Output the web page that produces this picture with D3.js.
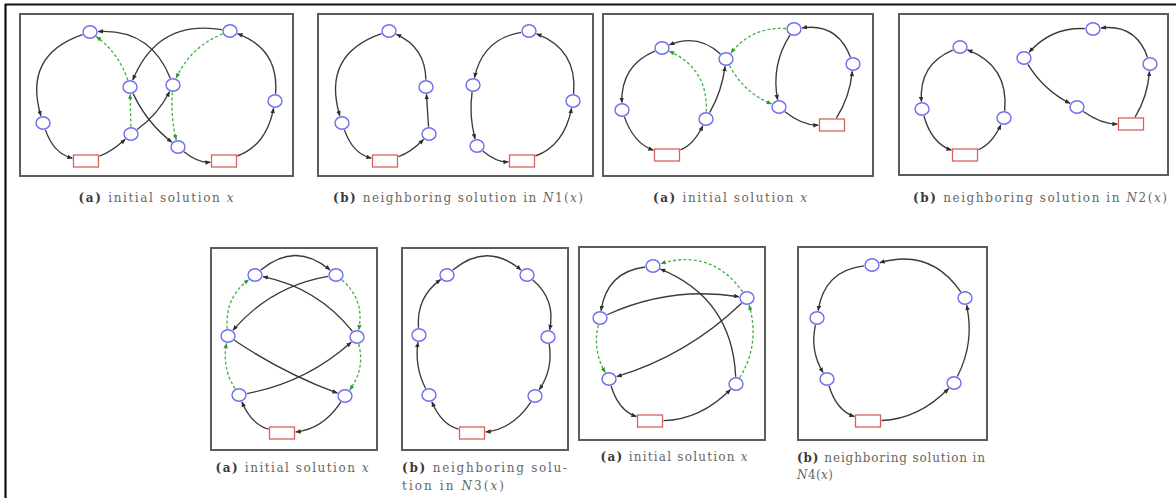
<!DOCTYPE html>
<html lang="en">
<head>
<meta charset="utf-8">
<script src="https://cdn.jsdelivr.net/npm/d3@7"></script>
<style>
body{margin:0;background:#fff;}
svg{display:block;}
</style>
</head>
<body>
<div id="chart"></div>
<script>
const W=1176, H=498

// nodes: [panel, id, x, y, kind]  (x,y in panel units, kind c=customer d=depot)
const nodes=[
 ["p1","a",70,18,"c"],["p1","b",210,17,"c"],["p1","c",23,109,"c"],["p1","d",110,73,"c"],["p1","e",153,71,"c"],
 ["p1","f",111,120,"c"],["p1","g",158,133,"c"],["p1","h",255,87,"c"],["p1","D1",66,147,"d"],["p1","D2",204,147,"d"],
 ["p2","a",71,17,"c"],["p2","b",108,73,"c"],["p2","c",111,120,"c"],["p2","d",24,109,"c"],["p2","D1",67,147,"d"],
 ["p2","e",211,17,"c"],["p2","f",155,71,"c"],["p2","g",159,132,"c"],["p2","h",255,87,"c"],["p2","D2",204,147,"d"],
 ["p3","A",59,34,"c"],["p3","B",123,45,"c"],["p3","C",19,96,"c"],["p3","D",103,105,"c"],["p3","DL",64,141,"d"],
 ["p3","E",191,15,"c"],["p3","F",250,50,"c"],["p3","G",176,93,"c"],["p3","DR",229,111,"d"],
 ["p4","A",61,33,"c"],["p4","C",23,95,"c"],["p4","D",105,104,"c"],["p4","DL",66,141,"d"],
 ["p4","E",194,15,"c"],["p4","L",125,44,"c"],["p4","R",251,50,"c"],["p4","G",178,93,"c"],["p4","DR",232,110,"d"],
 ["p5","TL",44,27,"c"],["p5","TR",125,27,"c"],["p5","ML",17,88,"c"],["p5","MR",146,89,"c"],["p5","BL",28,147,"c"],["p5","BR",134,148,"c"],["p5","D",71,185,"d"],
 ["p6","TL",45,27,"c"],["p6","TR",125,27,"c"],["p6","ML",17,87,"c"],["p6","MR",146,89,"c"],["p6","BL",27,147,"c"],["p6","BR",133,148,"c"],["p6","D",70,185,"d"],
 ["p7","T",74,19,"c"],["p7","R",168,51,"c"],["p7","L",21,71,"c"],["p7","BL",30,132,"c"],["p7","BR",157,137,"c"],["p7","D",71,174,"d"],
 ["p8","T",74,18,"c"],["p8","R",167,51,"c"],["p8","L",19,71,"c"],["p8","BL",29,132,"c"],["p8","BR",156,136,"c"],["p8","D",70,174,"d"]
]

// edges: [panel, from, to, bend, kind]  (s=route arc, g=move, dashed green)
const edges=[
 ["p1","D1","f",-0.05,"s"],["p1","f","e",-0.06,"s"],["p1","e","a",-0.18,"s"],["p1","a","c",-0.24,"s"],["p1","c","D1",-0.14,"s"],
 ["p1","D2","h",-0.14,"s"],["p1","h","b",-0.19,"s"],["p1","b","d",-0.2,"s"],["p1","d","g",-0.06,"s"],["p1","g","D2",-0.1,"s"],
 ["p1","d","a",-0.08,"g"],["p1","f","d",0,"g"],["p1","b","e",-0.1,"g"],["p1","e","g",-0.04,"g"],
 ["p2","D1","c",-0.06,"s"],["p2","c","b",0,"s"],["p2","b","a",-0.16,"s"],["p2","a","d",-0.24,"s"],["p2","d","D1",-0.14,"s"],
 ["p2","D2","h",-0.14,"s"],["p2","h","e",-0.19,"s"],["p2","e","f",-0.17,"s"],["p2","f","g",-0.05,"s"],["p2","g","D2",-0.1,"s"],
 ["p3","DL","D",-0.1,"s"],["p3","D","B",-0.05,"s"],["p3","B","A",-0.16,"s"],["p3","A","C",-0.17,"s"],["p3","C","DL",-0.12,"s"],
 ["p3","DR","F",-0.06,"s"],["p3","F","E",-0.2,"s"],["p3","E","G",-0.1,"s"],["p3","G","DR",-0.09,"s"],
 ["p3","D","A",-0.17,"g"],["p3","E","B",-0.13,"g"],["p3","B","G",-0.09,"g"],
 ["p4","DL","D",-0.1,"s"],["p4","D","A",-0.19,"s"],["p4","A","C",-0.18,"s"],["p4","C","DL",-0.13,"s"],
 ["p4","DR","R",-0.06,"s"],["p4","R","E",-0.2,"s"],["p4","E","L",-0.12,"s"],["p4","L","G",-0.07,"s"],["p4","G","DR",-0.08,"s"],
 ["p5","D","BL",0.12,"s"],["p5","BL","MR",-0.07,"s"],["p5","MR","TL",-0.09,"s"],["p5","TL","TR",0.21,"s"],
 ["p5","TR","ML",-0.09,"s"],["p5","ML","BR",-0.03,"s"],["p5","BR","D",0.12,"s"],
 ["p5","ML","TL",0.14,"g"],["p5","TR","MR",0.15,"g"],["p5","BL","ML",0.1,"g"],["p5","MR","BR",0.12,"g"],
 ["p6","D","BL",0.12,"s"],["p6","BL","ML",0.08,"s"],["p6","ML","TL",0.14,"s"],["p6","TL","TR",0.21,"s"],
 ["p6","TR","MR",0.15,"s"],["p6","MR","BR",0.1,"s"],["p6","BR","D",0.12,"s"],
 ["p7","D","BR",-0.1,"s"],["p7","BR","T",-0.16,"s"],["p7","T","L",-0.19,"s"],["p7","L","R",0.075,"s"],
 ["p7","R","BL",0.06,"s"],["p7","BL","D",-0.13,"s"],
 ["p7","R","T",-0.18,"g"],["p7","L","BL",-0.1,"g"],["p7","BR","R",-0.11,"g"],
 ["p8","D","BR",-0.1,"s"],["p8","BR","R",-0.09,"s"],["p8","R","T",-0.18,"s"],["p8","T","L",-0.19,"s"],
 ["p8","L","BL",-0.1,"s"],["p8","BL","D",-0.13,"s"]
]

// captions: [panel, tag, line1, line2]  ($..$ = italic math)
const captions=[
 ["p1","(a)","initial solution $x$",""],
 ["p2","(b)","neighboring solution in $N$1($x$)",""],
 ["p3","(a)","initial solution $x$",""],
 ["p4","(b)","neighboring solution in $N$2($x$)",""],
 ["p5","(a)","initial solution $x$",""],
 ["p6","(b)","neighboring solu-","tion in $N$3($x$)"],
 ["p7","(a)","initial solution $x$",""],
 ["p8","(b)","neighboring solution in","$N$4($x$)"]
]

// layout: panel frames [id, left, top, width, height]
const panels=[
 ["p1",20,14,273,162],["p2",318,14,275,162],["p3",603,14,270,162],["p4",899,14,269,161],
 ["p5",211,248,166,202],["p6",402,248,166,202],["p7",579,247,186,193],["p8",798,247,189,193]
]
// caption placement: x, baseline, anchor, width of line 1, baseline of line 2, width of line 2
const capLayout={
 p1:[156,202,"middle",155],p2:[458,202,"middle",250],p3:[730,202,"middle",154],p4:[1040,202,"middle",254],
 p5:[292,472,"middle",153],p6:[402,472,"start",165,490,102],p7:[674,461,"middle",147],p8:[797,462,"start",188,479,36]
}
const FONT="'DejaVu Serif','Liberation Serif',serif"

const RX=7, RY=6.2, DW=12.5, DH=6

const svg=d3.select("#chart").append("svg").attr("width",W).attr("height",H);
const defs=svg.append("defs");
[["arrS","#2e2e2e"],["arrG","#2f9e2f"]].forEach(([id,c])=>{
  defs.append("marker").attr("id",id).attr("viewBox","0 0 6 5").attr("refX",5.5).attr("refY",2.5)
    .attr("markerWidth",5.5).attr("markerHeight",4.5).attr("markerUnits","userSpaceOnUse").attr("orient","auto")
    .append("path").attr("d","M0,0L6,2.5L0,5Z").attr("fill",c)
})

// outer frame (top and left only)
svg.append("line").attr("x1",5).attr("y1",4.5).attr("x2",W).attr("y2",4.5).attr("stroke","#111").attr("stroke-width",2.2)
svg.append("line").attr("x1",5.5).attr("y1",4).attr("x2",5.5).attr("y2",H).attr("stroke","#111").attr("stroke-width",2.2)

function radius(n,ux,uy){
  if(n.kind==="d") return Math.min(ux?DW/Math.abs(ux):1e9, uy?DH/Math.abs(uy):1e9)
  return 1/Math.sqrt((ux/RX)**2+(uy/RY)**2)
}
function edgePath(a,b,bend,gapEnd){
  const dx=b.x-a.x, dy=b.y-a.y, len=Math.hypot(dx,dy)
  const nx=dy/len, ny=-dx/len
  const cx=(a.x+b.x)/2+nx*2*bend*len, cy=(a.y+b.y)/2+ny*2*bend*len
  let ux=cx-a.x, uy=cy-a.y, l=Math.hypot(ux,uy); ux/=l; uy/=l
  const r0=radius(a,ux,uy)+1
  let vx=cx-b.x, vy=cy-b.y; l=Math.hypot(vx,vy); vx/=l; vy/=l
  const r1=radius(b,vx,vy)+gapEnd
  return "M"+(a.x+ux*r0)+","+(a.y+uy*r0)+"Q"+cx+","+cy+" "+(b.x+vx*r1)+","+(b.y+vy*r1)
}

panels.forEach(([id,x0,y0,w,h])=>{
  const x=d3.scaleLinear().domain([0,w]).range([x0,x0+w])
  const y=d3.scaleLinear().domain([0,h]).range([y0,y0+h])
  const g=svg.append("g").attr("id",id)
  g.append("rect").attr("x",x(0)).attr("y",y(0)).attr("width",x(w)-x(0)).attr("height",y(h)-y(0))
    .attr("fill","none").attr("stroke","#5c5c5c").attr("stroke-width",2)

  const pos={}
  nodes.filter(n=>n[0]===id).forEach(n=>pos[n[1]]={x:x(n[2]),y:y(n[3]),kind:n[4]})

  g.selectAll("path.edge").data(edges.filter(e=>e[0]===id)).join("path").attr("class","edge")
    .attr("d",e=>edgePath(pos[e[1]],pos[e[2]],e[3],1.2))
    .attr("fill","none")
    .attr("stroke",e=>e[4]==="g"?"#49b049":"#3a3a3a")
    .attr("stroke-width",1.35)
    .attr("stroke-dasharray",e=>e[4]==="g"?"3,2.2":null)
    .attr("marker-end",e=>e[4]==="g"?"url(#arrG)":"url(#arrS)")

  const list=Object.values(pos)
  g.selectAll("ellipse").data(list.filter(n=>n.kind==="c")).join("ellipse")
    .attr("cx",d=>d.x).attr("cy",d=>d.y).attr("rx",RX).attr("ry",RY)
    .attr("fill","#fff").attr("stroke","#6f6ff2").attr("stroke-width",1.4)
  g.selectAll("rect.depot").data(list.filter(n=>n.kind==="d")).join("rect").attr("class","depot")
    .attr("x",d=>d.x-DW).attr("y",d=>d.y-DH).attr("width",DW*2).attr("height",DH*2)
    .attr("fill","#fff").attr("stroke","#d9605e").attr("stroke-width",1.3)
})

function addRich(t,str){
  str.split("$").forEach((s,i)=>{
    if(!s) return
    const sp=t.append("tspan").text(s)
    if(i%2===1) sp.attr("font-style","italic")
  })
}
captions.forEach(([id,tag,l1,l2])=>{
  const [cx,by,anchor,len,by2,len2]=capLayout[id]
  const t=svg.append("text").attr("x",cx).attr("y",by).attr("text-anchor",anchor)
    .attr("font-family",FONT).attr("font-size",12).attr("fill","#666")
    .attr("textLength",len).attr("lengthAdjust","spacing")
  t.append("tspan").text(tag+" ").attr("font-weight","bold").attr("fill","#3a3a3a")
  addRich(t,l1)
  if(l2){
    const t2=svg.append("text").attr("x",cx).attr("y",by2).attr("text-anchor",anchor)
      .attr("font-family",FONT).attr("font-size",12).attr("fill","#666")
      .attr("textLength",len2).attr("lengthAdjust","spacing")
    addRich(t2,l2)
  }
})
</script>
</body>
</html>
